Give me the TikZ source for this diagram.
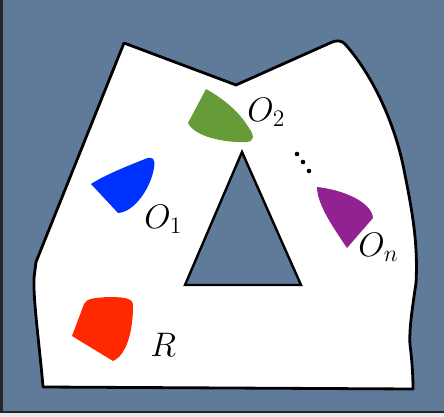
\documentclass[tikz,border=0pt]{standalone}
\usepackage{amsmath}
\definecolor{bg}{RGB}{96,122,154}
\definecolor{blobblue}{RGB}{0,50,255}
\definecolor{blobgreen}{RGB}{102,155,55}
\definecolor{blobpurple}{RGB}{146,34,146}
\definecolor{blobred}{RGB}{255,40,0}
\begin{document}
\begin{tikzpicture}[x=1pt,y=-1pt,
  lbl/.style={anchor=base west,inner sep=0pt,font=\huge,scale=1.64},
  wall/.style={draw=black,line width=2.8pt,line join=round}]
\useasboundingbox (0,0) rectangle (444,417);
\fill[bg] (0,0) rectangle (444,417);
\fill[black!85] (0,0) rectangle (3,412);
\fill[black!85] (0,410.5) rectangle (444,413);
\fill[white!85!bg] (0,413) rectangle (444,417);
% free space
\path[wall,fill=white] (124,43) -- (236,85) -- (330,43)
  .. controls (336,40) and (341,40) .. (345,44)
  .. controls (370,72) and (395,120) .. (405,175)
  .. controls (413,215) and (418,245) .. (416,283)
  .. controls (412,310) and (409,330) .. (410,345)
  .. controls (412,360) and (413,375) .. (413,389)
  -- (43,387)
  .. controls (40,350) and (33,300) .. (34,278)
  -- (36,262) -- cycle;
% triangle obstacle
\path[draw=black,line width=2.4pt,line join=miter,fill=bg] (242,152) -- (185,285) -- (301,285) -- cycle;
% blobs
\fill[blobblue] (91,184) -- (118,213)
  .. controls (135,212) and (151,187) .. (154,168)
  .. controls (156,158) and (152,156) .. (145,159)
  .. controls (125,167) and (105,175) .. cycle;
\fill[blobgreen] (206,89) -- (188,123)
  .. controls (195,137) and (225,143) .. (247,142)
  .. controls (255,141) and (254,135) .. (249,128)
  .. controls (238,110) and (222,98) .. cycle;
\fill[blobpurple] (317,187)
  .. controls (317,205) and (335,230) .. (347,248)
  -- (373,218)
  .. controls (372,203) and (345,190) .. cycle;
\fill[blobred] (72,336) -- (84,304)
  .. controls (87,298) and (95,298) .. (108,297)
  .. controls (128,297) and (133,299) .. (133,306)
  .. controls (133,330) and (127,355) .. (113,361) -- cycle;
% dots
\foreach \p in {(297,154),(303,162),(309,171)} \fill[black] \p circle (2.3);
% labels
\node[lbl] (o2) at (247,121) {$O_2$};
\node[lbl] (o1) at (144,228) {$O_1$};
\node[lbl] (on) at (358,256) {$O_n$};
\node[lbl] (r) at (150,356) {$R$};
\end{tikzpicture}
\end{document}
